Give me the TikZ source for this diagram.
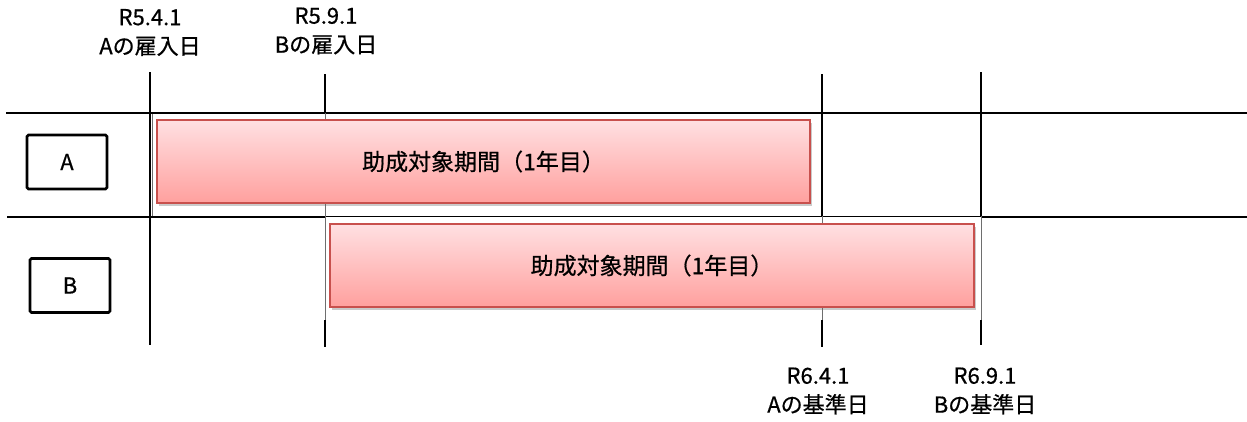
\documentclass[tikz,border=0pt]{standalone}
\usepackage{fontspec}
\setmainfont{Noto Sans CJK JP}[FakeBold=0.6]
\usetikzlibrary{shadows}
\definecolor{barborder}{RGB}{200,80,77}
\definecolor{bartop}{RGB}{255,224,226}
\definecolor{barbot}{RGB}{255,160,158}
\definecolor{framegray}{RGB}{110,110,110}
\tikzset{
  thickline/.style={line width=2.4pt,black},
  rowline/.style={line width=1.6pt,black},
  thinline/.style={line width=1pt,framegray},
  bar/.style={draw=barborder,line width=1.2pt,top color=bartop,bottom color=barbot,
    drop shadow={shadow xshift=2pt,shadow yshift=-3pt,opacity=0.35,fill=black!60}},
  barlabel/.style={font=\fontsize{23}{27}\selectfont},
  datelabel/.style={font=\fontsize{22}{29}\selectfont,align=center},
  whobox/.style={draw=black,line width=2.6pt,rounded corners=1.5pt,minimum width=80pt,minimum height=54pt,inner sep=0pt,font=\fontsize{22}{26}\selectfont}
}
\begin{document}
\begin{tikzpicture}[x=1pt,y=-1pt]
\useasboundingbox (0,0) rectangle (1247,421);
% frame edges
\draw[thinline] (152,113) -- (152,216);
% horizontal lines
\draw[rowline] (6,113) -- (1247,113);
\draw[rowline] (7,216.7) -- (325,216.7);
\draw[line width=1.1pt] (325,216.7) -- (981,216.7);
\draw[rowline] (981,216.7) -- (1247,216.7);
% vertical lines
\draw[thickline] (150,72) -- (150,345);
\draw[thickline] (325,74) -- (325,113);
\draw[thinline] (325,113) -- (325,320);
\draw[thickline] (325,320) -- (325,347);
\draw[thickline] (822,74) -- (822,216);
\draw[thinline] (822,216) -- (822,320);
\draw[thickline] (822,320) -- (822,347);
\draw[thickline] (981,72) -- (981,216);
\draw[thinline] (981,216) -- (981,320);
\draw[thickline] (981,320) -- (981,345);
% bars
\draw[bar] (157,120) rectangle (810,203);
\node[barlabel] (barA) at (483.5,161.5) {助成対象期間（1年目）};
\draw[bar] (330,224) rectangle (974,307);
\node[barlabel] (barB) at (652,265.5) {助成対象期間（1年目）};
% who boxes
\node[whobox] (A) at (67,162) {A};
\node[whobox] (B) at (70,285.5) {B};
% date labels
\node[datelabel] (lA) at (150,32.5) {R5.4.1\\Aの雇入日};
\node[datelabel] (lB) at (326,31) {R5.9.1\\Bの雇入日};
\node[datelabel] (lC) at (818,391) {R6.4.1\\Aの基準日};
\node[datelabel] (lD) at (985,391) {R6.9.1\\Bの基準日};
\end{tikzpicture}
\end{document}
